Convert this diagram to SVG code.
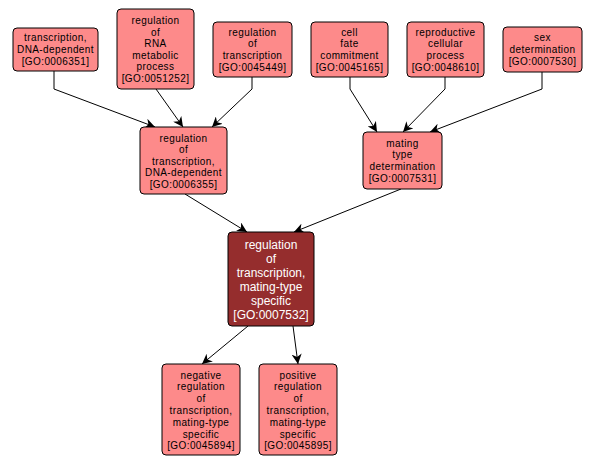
<svg xmlns="http://www.w3.org/2000/svg" width="595" height="465" viewBox="0 0 595 465">
<style>
.n rect{fill:#fd8a8a;stroke:#000;stroke-width:1}
.d rect{fill:#952d2d;stroke:#000;stroke-width:1}
text{font-family:"Liberation Sans",Arial,sans-serif;font-size:10px;letter-spacing:0.4px;text-anchor:middle;dominant-baseline:central;fill:#000}
.d text{font-size:12px;letter-spacing:0;fill:#fff}
.e path{fill:none;stroke:#000;stroke-width:1;marker-end:url(#a)}
</style>
<defs>
<marker id="a" viewBox="0 0 10 10" refX="10" refY="5" markerWidth="10" markerHeight="10" markerUnits="userSpaceOnUse" orient="auto">
<path d="M0,0 L10,5 L0,10 L3,5 Z" fill="#000"/>
</marker>
</defs>
<rect width="595" height="465" fill="#fff"/>
<g class="e">
<path d="M54,71 V89 L155,127"/>
<path d="M156,89 L183,127"/>
<path d="M252,77 V89 L212,127"/>
<path d="M350,77 V89 L377,132"/>
<path d="M445,77 V89 L403,132"/>
<path d="M542,72 V89 L430,132"/>
<path d="M185,194 L247,232"/>
<path d="M401,189 L294,232"/>
<path d="M248,326 L202,364"/>
<path d="M293,326 L298,364"/>
</g>
<g id="GO0006351" class="n"><rect x="13" y="28" width="85" height="43" rx="4"/>
<text x="55.5" y="37.5">transcription,</text><text x="55.5" y="49.5">DNA-dependent</text><text x="55.5" y="61.5">[GO:0006351]</text></g>
<g id="GO0051252" class="n"><rect x="117" y="9" width="77" height="80" rx="4"/>
<text x="155.5" y="20.5">regulation</text><text x="155.5" y="32.1">of</text><text x="155.5" y="43.7">RNA</text><text x="155.5" y="55.3">metabolic</text><text x="155.5" y="66.9">process</text><text x="155.5" y="78.5">[GO:0051252]</text></g>
<g id="GO0045449" class="n"><rect x="213" y="22" width="79" height="55" rx="4"/>
<text x="252.5" y="32">regulation</text><text x="252.5" y="43.8">of</text><text x="252.5" y="55.6">transcription</text><text x="252.5" y="67.4">[GO:0045449]</text></g>
<g id="GO0006355" class="n"><rect x="140" y="127" width="87" height="67" rx="4"/>
<text x="183.5" y="138">regulation</text><text x="183.5" y="149.5">of</text><text x="183.5" y="161">transcription,</text><text x="183.5" y="172.5">DNA-dependent</text><text x="183.5" y="184">[GO:0006355]</text></g>
<g id="GO0045165" class="n"><rect x="311" y="22" width="77" height="55" rx="4"/>
<text x="349.5" y="32">cell</text><text x="349.5" y="43.8">fate</text><text x="349.5" y="55.6">commitment</text><text x="349.5" y="67.4">[GO:0045165]</text></g>
<g id="GO0048610" class="n"><rect x="407" y="22" width="77" height="55" rx="4"/>
<text x="445.5" y="32">reproductive</text><text x="445.5" y="43.8">cellular</text><text x="445.5" y="55.6">process</text><text x="445.5" y="67.4">[GO:0048610]</text></g>
<g id="GO0007530" class="n"><rect x="503" y="27" width="79" height="45" rx="4"/>
<text x="542.5" y="37.5">sex</text><text x="542.5" y="49.5">determination</text><text x="542.5" y="61.5">[GO:0007530]</text></g>
<g id="GO0007531" class="n"><rect x="363" y="132" width="79" height="57" rx="4"/>
<text x="402.5" y="143">mating</text><text x="402.5" y="154.8">type</text><text x="402.5" y="166.6">determination</text><text x="402.5" y="178.4">[GO:0007531]</text></g>
<g id="GO0007532" class="d"><rect x="228" y="232" width="86" height="94" rx="4"/>
<text x="271" y="244.5">regulation</text><text x="271" y="258.5">of</text><text x="271" y="272.5">transcription,</text><text x="271" y="286.5">mating-type</text><text x="271" y="300.5">specific</text><text x="271" y="314.5">[GO:0007532]</text></g>
<g id="GO0045894" class="n"><rect x="162" y="364" width="78" height="91" rx="4"/>
<text x="201" y="375">negative</text><text x="201" y="386.8">regulation</text><text x="201" y="398.6">of</text><text x="201" y="410.4">transcription,</text><text x="201" y="422.2">mating-type</text><text x="201" y="434">specific</text><text x="201" y="445.8">[GO:0045894]</text></g>
<g id="GO0045895" class="n"><rect x="259" y="364" width="78" height="91" rx="4"/>
<text x="298" y="375">positive</text><text x="298" y="386.8">regulation</text><text x="298" y="398.6">of</text><text x="298" y="410.4">transcription,</text><text x="298" y="422.2">mating-type</text><text x="298" y="434">specific</text><text x="298" y="445.8">[GO:0045895]</text></g>
</svg>
